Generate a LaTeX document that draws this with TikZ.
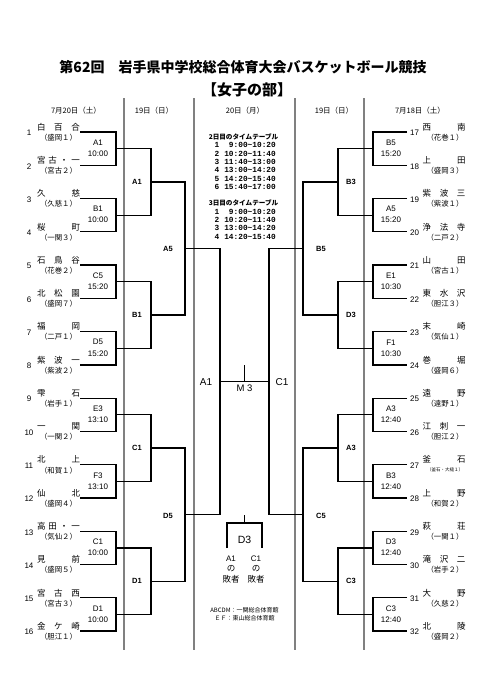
\documentclass[tikz,border=0pt]{standalone}
\usepackage{fontspec}
\setmainfont{Liberation Sans}
\newfontfamily\jp{Noto Sans CJK JP}
\newfontfamily\mono{Liberation Mono}
\begin{document}
\begin{tikzpicture}[x=1pt,y=-1pt,
  gline/.style={draw=black!50, line width=1.1pt},
  bline/.style={draw=black, line width=1.3pt},
  tnum/.style={font=\fontsize{8}{8}\selectfont, inner sep=0pt},
  tname/.style={font=\jp\fontsize{8.5}{9}\selectfont, inner sep=0pt},
  tpar/.style={font=\jp\fontsize{7.4}{8}\selectfont, inner sep=0pt},
  mlab/.style={font=\fontsize{8}{8}\selectfont, inner sep=0pt},
  rlab/.style={font=\bfseries\fontsize{7.5}{8}\selectfont, inner sep=0pt},
  slab/.style={font=\fontsize{10}{10}\selectfont, inner sep=0pt},
  hdr/.style={font=\jp\fontsize{7.5}{8}\selectfont, inner sep=0pt},
  tth/.style={font=\jp\bfseries\fontsize{6.6}{7}\selectfont, inner sep=0pt},
  ttl/.style={font=\mono\bfseries\fontsize{7.8}{8}\selectfont, inner sep=0pt},
  note/.style={font=\jp\fontsize{6}{6}\selectfont, inner sep=0pt},
  small/.style={font=\jp\fontsize{8.5}{9}\selectfont, inner sep=0pt}]
\useasboundingbox (0,0) rectangle (492,680);
\fill[white] (0,0) rectangle (492,680);

% title
\node[font=\jp\bfseries\fontsize{14}{14}\selectfont, inner sep=0pt] (title) at (243,67) {第62回　岩手県中学校総合体育大会バスケットボール競技};
\node[font=\jp\bfseries\fontsize{15}{15}\selectfont, inner sep=0pt] (sub) at (247,90) {【女子の部】};

% gray column lines
\foreach \gx/\gn in {124/g1,194/g2,295/g3,364/g4}{
  \coordinate (\gn t) at (\gx,98);
  \coordinate (\gn b) at (\gx,650);
  \draw[gline] (\gn t) -- (\gn b);
}

% column headers
\node[hdr] (h1) at (76,111) {7月20日（土）};
\node[hdr] (h2) at (154,111) {19日（日）};
\node[hdr] (h3) at (245,111) {20日（月）};
\node[hdr] (h4) at (334,111) {19日（日）};
\node[hdr] (h5) at (420,111) {7月18日（土）};

% left teams
\foreach \i/\nm/\pr in {
 1/{白\hfill 百\hfill 合}/{（盛岡１）},
 2/{宮\hfill 古\hfill ・\hfill 一}/{（宮古２）},
 3/{久\hfill 慈}/{（久慈１）},
 4/{桜\hfill 町}/{（一関３）},
 5/{石\hfill 鳥\hfill 谷}/{（花巻２）},
 6/{北\hfill 松\hfill 園}/{（盛岡７）},
 7/{福\hfill 岡}/{（二戸１）},
 8/{紫\hfill 波\hfill 一}/{（紫波２）},
 9/{雫\hfill 石}/{（岩手１）},
 10/{一\hfill 関}/{（一関２）},
 11/{北\hfill 上}/{（和賀１）},
 12/{仙\hfill 北}/{（盛岡４）},
 13/{高\hfill 田\hfill ・\hfill 一}/{（気仙２）},
 14/{見\hfill 前}/{（盛岡５）},
 15/{宮\hfill 古\hfill 西}/{（宮古３）},
 16/{金\hfill ケ\hfill 崎}/{（胆江１）}}{
  \pgfmathsetmacro\yy{132+(\i-1)*33.27}
  \coordinate (L\i) at (80,\yy);
  \node[tnum] (Ln\i) at (29,\yy+1) {\i};
  \node[tname] (Lt\i) at (58.5,\yy-5) {\makebox[43pt][s]{\nm}};
  \node[tpar] (Lp\i) at (58.5,\yy+5.5) {\pr};
}

% right teams
\foreach \i/\nm/\pr in {
 17/{西\hfill 南}/{（花巻１）},
 18/{上\hfill 田}/{（盛岡３）},
 19/{紫\hfill 波\hfill 三}/{（紫波１）},
 20/{浄\hfill 法\hfill 寺}/{（二戸２）},
 21/{山\hfill 田}/{（宮古１）},
 22/{東\hfill 水\hfill 沢}/{（胆江３）},
 23/{末\hfill 崎}/{（気仙１）},
 24/{巻\hfill 堀}/{（盛岡６）},
 25/{遠\hfill 野}/{（遠野１）},
 26/{江\hfill 刺\hfill 一}/{（胆江２）},
 27/{釜\hfill 石}/{\fontsize{4.5}{5}\selectfont （釜石・大槌１）},
 28/{上\hfill 野}/{（和賀２）},
 29/{萩\hfill 荘}/{（一関１）},
 30/{滝\hfill 沢\hfill 二}/{（岩手２）},
 31/{大\hfill 野}/{（久慈２）},
 32/{北\hfill 陵}/{（盛岡２）}}{
  \pgfmathsetmacro\yy{132+(\i-17)*33.27}
  \coordinate (R\i) at (407,\yy);
  \node[tnum] (Rn\i) at (414.5,\yy+1) {\i};
  \node[tname] (Rt\i) at (444,\yy-5) {\makebox[43pt][s]{\nm}};
  \node[tpar] (Rp\i) at (445,\yy+5.5) {\pr};
}

% left round 1
\foreach \k/\lab/\tm in {1/A1/10:00,2/B1/10:00,3/C5/15:20,4/D5/15:20,5/E3/13:10,6/F3/13:10,7/C1/10:00,8/D1/10:00}{
  \pgfmathsetmacro\yy{132+(2*\k-1.5)*33.27}
  \pgfmathtruncatemacro\a{2*\k-1}
  \pgfmathtruncatemacro\b{2*\k}
  \coordinate (LA\k) at (116,\yy);
  \node[mlab] (LAl\k) at (98,\yy-6) {\lab};
  \node[mlab] (LAt\k) at (98,\yy+5) {\tm};
  \draw[bline] (L\a) -| (LA\k) |- (L\b);
}
% right round 1
\foreach \k/\lab/\tm in {1/B5/15:20,2/A5/15:20,3/E1/10:30,4/F1/10:30,5/A3/12:40,6/B3/12:40,7/D3/12:40,8/C3/12:40}{
  \pgfmathsetmacro\yy{132+(2*\k-1.5)*33.27}
  \pgfmathtruncatemacro\a{2*\k+15}
  \pgfmathtruncatemacro\b{2*\k+16}
  \coordinate (RA\k) at (373,\yy);
  \node[mlab] (RAl\k) at (391,\yy-6) {\lab};
  \node[mlab] (RAt\k) at (391,\yy+5) {\tm};
  \draw[bline] (R\a) -| (RA\k) |- (R\b);
}

% round 2
\foreach \k/\lab/\rab in {1/A1/B3,2/B1/D3,3/C1/A3,4/D1/C3}{
  \pgfmathsetmacro\yy{132+(4*\k-2.5)*33.27}
  \pgfmathtruncatemacro\a{2*\k-1}
  \pgfmathtruncatemacro\b{2*\k}
  \coordinate (LB\k) at (151,\yy);
  \coordinate (RB\k) at (338,\yy);
  \node[rlab] (LBl\k) at (137,\yy) {\lab};
  \node[rlab] (RBl\k) at (351,\yy) {\rab};
  \draw[bline] (LA\a) -| (LB\k) |- (LA\b);
  \draw[bline] (RA\a) -| (RB\k) |- (RA\b);
}

% round 3
\foreach \k/\lab/\rab in {1/A5/B5,2/D5/C5}{
  \pgfmathsetmacro\yy{132+(8*\k-4.5)*33.27}
  \pgfmathtruncatemacro\a{2*\k-1}
  \pgfmathtruncatemacro\b{2*\k}
  \coordinate (LC\k) at (185,\yy);
  \coordinate (RC\k) at (303,\yy);
  \node[rlab] (LCl\k) at (168,\yy+1) {\lab};
  \node[rlab] (RCl\k) at (321,\yy+1) {\rab};
  \draw[bline] (LB\a) -| (LC\k) |- (LB\b);
  \draw[bline] (RB\a) -| (RC\k) |- (RB\b);
}

% semis and final
\coordinate (LS) at (220,381.5);
\coordinate (RS) at (269,381.5);
\draw[bline] (LC1) -| (LS) |- (LC2);
\draw[bline] (RC1) -| (RS) |- (RC2);
\draw[bline] (LS) -- (RS);
\node[slab] (LSl) at (206,382) {A1};
\node[slab] (RSl) at (282,382) {C1};
\coordinate (FT) at (244.5,365);
\coordinate (FM) at (244.5,381.5);
\draw[bline] (FT) -- (FM);
\node[font=\fontsize{9.5}{10}\selectfont, inner sep=0pt] (M3) at (244.5,388.5) {M 3};

% third place
\coordinate (TT) at (244.5,515);
\coordinate (TM) at (244.5,523);
\coordinate (TL) at (227,523);
\coordinate (TR) at (262,523);
\coordinate (TLb) at (227,548);
\coordinate (TRb) at (262,548);
\draw[bline] (TT) -- (TM);
\draw[bline] (TLb) -- (TL) -- (TR) -- (TRb);
\node[font=\fontsize{10.5}{11}\selectfont, inner sep=0pt] (D3) at (244.5,540) {D3};
\node[mlab] (t3a) at (231,559) {A1};
\node[mlab] (t3c) at (256,559) {C1};
\node[small] (t3an) at (231,569) {の};
\node[small] (t3cn) at (256,569) {の};
\node[small] (t3al) at (231,579.5) {敗者};
\node[small] (t3cl) at (256,579.5) {敗者};

% time tables
\node[tth] (tt2) at (243.5,137) {2日目のタイムテーブル};
\foreach \j/\t in {1/9:00\textasciitilde 10:20,2/10:20\textasciitilde 11:40,3/11:40\textasciitilde 13:00,4/13:00\textasciitilde 14:20,5/14:20\textasciitilde 15:40,6/15:40\textasciitilde 17:00}{
  \node[ttl] (a\j n) at (217,145.3+8.3*\j-8.3) {\j};
  \node[ttl, anchor=east] (a\j t) at (276,145.3+8.3*\j-8.3) {\t};
}
\node[tth] (tt3) at (243.5,203) {3日目のタイムテーブル};
\foreach \j/\t in {1/9:00\textasciitilde 10:20,2/10:20\textasciitilde 11:40,3/13:00\textasciitilde 14:20,4/14:20\textasciitilde 15:40}{
  \node[ttl] (b\j n) at (217,211.7+8.3*\j-8.3) {\j};
  \node[ttl, anchor=east] (b\j t) at (276,211.7+8.3*\j-8.3) {\t};
}

% venue notes
\node[note] (v1) at (244.5,610) {ABCDM：一関総合体育館};
\node[note] (v2) at (244.5,618.5) {ＥＦ：東山総合体育館};
\end{tikzpicture}
\end{document}
